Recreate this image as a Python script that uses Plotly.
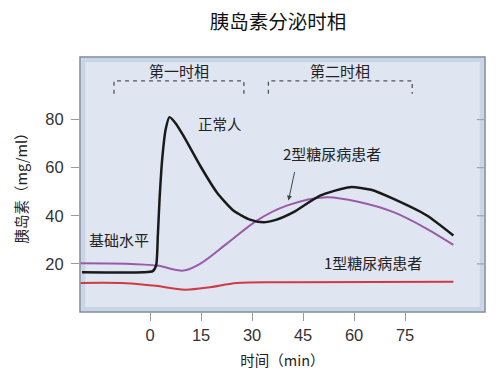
import plotly.graph_objects as go

# ---- data ----
t_normal = [-20, -2, 0.8, 1.8, 2.3, 2.8, 3.6, 4.6, 5.7, 7.5, 9.8, 14.7, 19.6, 24.5, 29.4, 33.3, 37, 42.2, 50, 58.8, 65, 71.6, 81.4, 89.2]
v_normal = [16.5, 16.5, 17.0, 19.5, 32, 47, 64, 76, 81, 78.5, 73.3, 60.9, 49.8, 42.2, 38.4, 37.3, 38.3, 41.5, 48.4, 51.9, 50.8, 47, 40.1, 31.8]

t_type2 = [-20.5, -7, 2, 9.8, 14.7, 22.5, 31.4, 40.2, 51.9, 61.8, 71.6, 81.4, 89.2]
v_type2 = [20.3, 20.1, 19.3, 17.2, 20, 28.3, 38, 44.2, 47.7, 45.6, 41.5, 34.6, 27.9]

t_type1 = [-20.5, -7, 1, 10.3, 17.6, 25.5, 42, 89.2]
v_type1 = [12.1, 12, 11, 9.3, 10.3, 12.1, 12.4, 12.6]

x_ticks = [0, 15, 30, 45, 60, 75]
y_ticks = [20, 40, 60, 80]

phase_names = ["第一时相", "第二时相"]
phase_start = [-10.6, 34.8]
phase_end = [27.6, 77.1]

title_text = "胰岛素分泌时相"
x_title = "时间（min）"
y_title = "胰岛素（mg/ml）"

FONT = "Liberation Sans, Arial, Noto Sans CJK SC, sans-serif"
CJK = "Noto Sans CJK SC, Liberation Sans, sans-serif"

XR = [-20.6, 98.5]
YR = [0, 106]

fig = go.Figure()
fig.add_trace(go.Scatter(x=t_type1, y=v_type1, mode="lines",
                         line=dict(color="#cf3a44", width=2, shape="spline", smoothing=0.9),
                         hoverinfo="skip"))
fig.add_trace(go.Scatter(x=t_type2, y=v_type2, mode="lines",
                         line=dict(color="#9a5aa8", width=2, shape="spline", smoothing=0.9),
                         hoverinfo="skip"))
fig.add_trace(go.Scatter(x=t_normal, y=v_normal, mode="lines",
                         line=dict(color="#1a1a1a", width=2.5, shape="spline", smoothing=0.6),
                         hoverinfo="skip"))

shapes = []
# panel border (outer darker, inner lighter band)
shapes.append(dict(type="rect", xref="paper", yref="paper", x0=0.008, x1=0.992, y0=0.012, y1=0.988,
                   line=dict(color="#c9d4e4", width=4), fillcolor="rgba(0,0,0,0)", layer="below"))
shapes.append(dict(type="rect", xref="paper", yref="paper", x0=0, x1=1, y0=0, y1=1,
                   line=dict(color="#7f8a9a", width=1.5), fillcolor="rgba(0,0,0,0)"))
# right-side inner tick marks
for yv in y_ticks:
    shapes.append(dict(type="line", xref="paper", yref="y", x0=0.98, x1=1, y0=yv, y1=yv,
                       line=dict(color="#9aa4b2", width=1.2)))
# phase brackets
for s, e in zip(phase_start, phase_end):
    shapes.append(dict(type="path", xref="x", yref="y",
                       path=f"M {s},90.7 L {s},96.1 L {e},96.1 L {e},90.7",
                       line=dict(color="#555555", width=1.3, dash="4px,4px")))

annotations = []
for name, s, e in zip(phase_names, phase_start, phase_end):
    annotations.append(dict(x=(s + e) / 2, y=100.3, xref="x", yref="y", text=name, showarrow=False,
                            font=dict(family=CJK, size=15, color="#222")))
annotations += [
    dict(x=20.6, y=78.2, xref="x", yref="y", text="正常人", showarrow=False,
         font=dict(family=CJK, size=14.5, color="#222")),
    dict(x=53.4, y=65.7, xref="x", yref="y", text="2型糖尿病患者", showarrow=False,
         font=dict(family=CJK, size=15, color="#222")),
    dict(x=-9.1, y=30, xref="x", yref="y", text="基础水平", showarrow=False,
         font=dict(family=CJK, size=15, color="#222")),
    dict(x=65.6, y=20.4, xref="x", yref="y", text="1型糖尿病患者", showarrow=False,
         font=dict(family=CJK, size=15, color="#222")),
    dict(x=40.7, y=46.3, ax=42.6, ay=58.8, xref="x", yref="y", axref="x", ayref="y", text="",
         showarrow=True, arrowhead=2, arrowsize=1, arrowwidth=1, arrowcolor="#444"),
]

fig.update_layout(
    width=500, height=383,
    margin=dict(l=80, r=15, t=57, b=71),
    paper_bgcolor="white",
    plot_bgcolor="#dfe6f2",
    showlegend=False,
    title=dict(text=title_text, x=278 / 500, xanchor="center", y=1 - 22 / 383, yanchor="middle",
               yref="container", font=dict(family=CJK, size=19.5, color="#111")),
    shapes=shapes,
    annotations=annotations,
    font=dict(family=FONT, color="#333"),
)
fig.update_xaxes(range=XR, tickvals=x_ticks, ticks="outside", ticklen=8, tickcolor="#999",
                 tickwidth=1.2, showgrid=False, zeroline=False, showline=False, automargin=False,
                 tickfont=dict(family=FONT, size=16.5, color="#333"),
                 title=dict(text=x_title, font=dict(family=CJK, size=14.5, color="#222"), standoff=13))
fig.update_yaxes(range=YR, tickvals=y_ticks, ticks="outside", ticklen=8, tickcolor="#999",
                 tickwidth=1.2, showgrid=False, zeroline=False, showline=False, automargin=False,
                 tickfont=dict(family=FONT, size=16.5, color="#333"), ticklabelstandoff=4,
                 title=dict(text=y_title, font=dict(family=CJK, size=14.5, color="#222"), standoff=14))

fig.write_html("out.html", config={"displayModeBar": False},
               post_script="document.body.style.margin='0';document.body.style.padding='0';")
